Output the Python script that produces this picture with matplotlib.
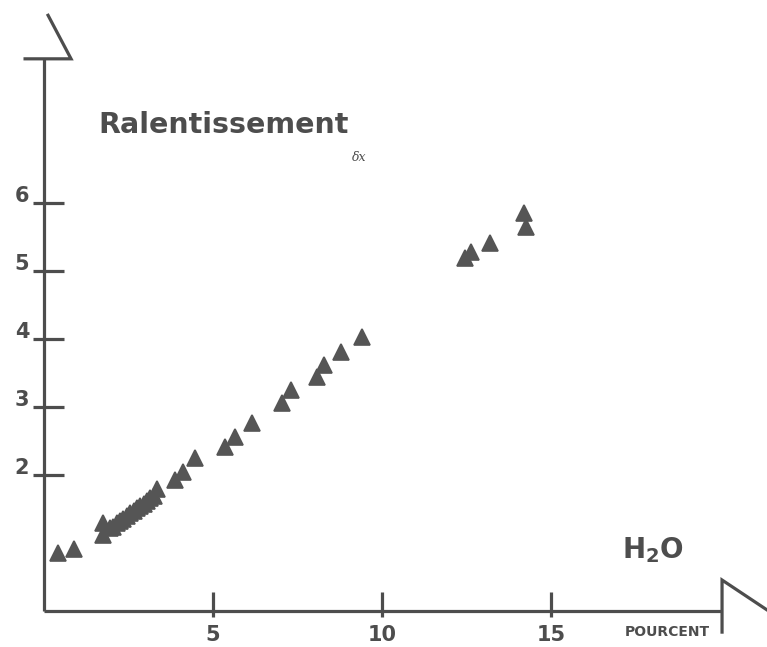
import matplotlib
matplotlib.use("Agg")
import matplotlib.pyplot as plt

# ---- data ----
water_pct = [0.41, 0.88, 1.74, 1.76, 1.94, 2.05, 2.15, 2.25, 2.35, 2.45, 2.55,
             2.65, 2.75, 2.85, 2.95, 3.05, 3.15, 3.25, 3.35, 3.88, 4.12, 4.47,
             5.35, 5.65, 6.15, 7.03, 7.32, 8.09, 8.29, 8.79, 9.41, 12.47, 12.62,
             13.2, 14.2, 14.26]
slowing = [0.85, 0.91, 1.12, 1.30, 1.22, 1.24, 1.29, 1.33, 1.36, 1.40, 1.44,
           1.47, 1.51, 1.55, 1.58, 1.62, 1.66, 1.69, 1.79, 1.93, 2.04, 2.25,
           2.41, 2.56, 2.76, 3.06, 3.25, 3.44, 3.62, 3.81, 4.03, 5.19, 5.28,
           5.41, 5.85, 5.65]
x_ticks = [5, 10, 15]
x_tick_labels = ["5", "10", "15"]
y_ticks = [2, 3, 4, 5, 6]
y_tick_labels = ["2", "3", "4", "5", "6"]

col = "#4d4d4d"
fig = plt.figure(figsize=(7.67, 6.47), dpi=100)
ax = fig.add_axes([0, 0, 1, 1])
ax.set_xlim(-1.302, 21.39)
ax.set_ylim(-0.529, 8.985)
ax.axis("off")

lw = 2.3
# y axis with flag at top
ax.plot([0, 0], [0, 8.12], color=col, lw=lw, solid_capstyle="butt")
ax.plot([-0.56, 0.80, 0.12], [8.12, 8.12, 8.76], color=col, lw=lw,
        solid_joinstyle="miter")
# x axis with flag at right
ax.plot([0, 20.06], [0, 0], color=col, lw=lw, solid_capstyle="butt")
ax.plot([20.06, 20.06, 21.5], [-0.31, 0.456, -0.02], color=col, lw=lw,
        solid_joinstyle="miter")

# ticks
for t, lab in zip(y_ticks, y_tick_labels):
    ax.plot([-0.33, 0.58], [t, t], color=col, lw=lw, solid_capstyle="butt")
    ax.text(-0.44, t + 0.01, lab, ha="right", va="baseline", fontsize=15,
            fontweight="bold", color=col, family="DejaVu Sans")
for t, lab in zip(x_ticks, x_tick_labels):
    ax.plot([t, t], [-0.09, 0.28], color=col, lw=lw, solid_capstyle="butt")
    ax.text(t, -0.2, lab, ha="center", va="top", fontsize=15,
            fontweight="bold", color=col, family="DejaVu Sans")

# data
ax.plot(water_pct, slowing, linestyle="none", marker="^", ms=11,
        color="#555555", mec="#555555", mew=1.2)

# labels
ax.text(1.6, 7.03, "Ralentissement", ha="left", va="baseline", fontsize=20.5,
        fontweight="bold", color=col, family="DejaVu Sans")
ax.text(9.1, 6.62, "δx", ha="left", va="baseline", fontsize=9,
        style="italic", color=col, family="DejaVu Serif")
ax.text(17.1, 0.78, r"$\mathbf{H_2O}$", ha="left", va="baseline",
        fontsize=20, color=col)
ax.text(18.43, -0.368, "POURCENT", ha="center", va="baseline", fontsize=10,
        fontweight="bold", color=col, family="DejaVu Sans")

fig.savefig("out.png", dpi=100)
